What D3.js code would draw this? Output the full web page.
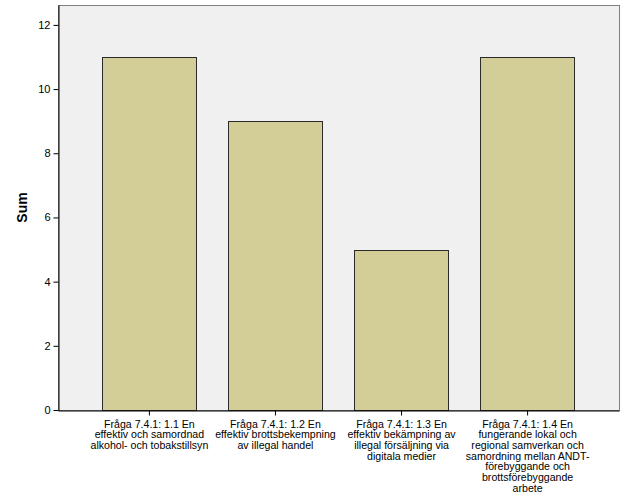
<!DOCTYPE html>
<html><head><meta charset="utf-8">
<script src="https://cdn.jsdelivr.net/npm/d3@7"></script>
<style>body{margin:0;background:#fff}svg{display:block}text{font-family:"Liberation Sans",Arial,sans-serif}</style>
</head><body>
<script>
const categories = [
  ["Fråga 7.4.1: 1.1 En","effektiv och samordnad","alkohol- och tobakstillsyn"],
  ["Fråga 7.4.1: 1.2 En","effektiv brottsbekempning","av illegal handel"],
  ["Fråga 7.4.1: 1.3 En","effektiv bekämpning av","illegal försäljning via","digitala medier"],
  ["Fråga 7.4.1: 1.4 En","fungerande lokal och","regional samverkan och","samordning mellan ANDT-","förebyggande och","brottsförebyggande","arbete"]
];
const values = [11, 9, 5, 11];
const yTicks = [0, 2, 4, 6, 8, 10, 12];
const yLabel = "Sum";

const W = 626, H = 501;
const m = {left: 58, right: 7, top: 5, bottom: 91};
const svg = d3.select("body").append("svg").attr("width", W).attr("height", H);
const x = d3.scaleBand().domain(d3.range(categories.length)).range([m.left, W - m.right]).paddingInner(0.25).paddingOuter(0.35);
const y = d3.scaleLinear().domain([0, 12.62]).range([H - m.bottom, m.top]);

svg.append("rect").attr("x", m.left + 0.5).attr("y", m.top + 0.5).attr("width", W - m.right - m.left).attr("height", H - m.bottom - m.top)
  .attr("fill", "#f0f0f0").attr("stroke", "#7f7f7f").attr("stroke-width", 1);

svg.selectAll("rect.bar").data(values).join("rect").attr("class", "bar")
  .attr("x", (d, i) => Math.round(x(i)) + 0.5).attr("y", d => Math.round(y(d)) + 0.5)
  .attr("width", Math.round(x.bandwidth()) - 1).attr("height", d => Math.round(y(0)) - Math.round(y(d)))
  .attr("fill", "#d3ce97").attr("stroke", "#2b2b2b").attr("stroke-width", 1);

// y axis
const ya = svg.append("g").attr("transform", `translate(${m.left + 0.5},0)`)
  .call(d3.axisLeft(y).tickValues(yTicks).tickSize(5).tickSizeOuter(0).tickPadding(3).tickFormat(d3.format("d")));
ya.select(".domain").attr("stroke", "#000");
ya.selectAll("text").attr("font-size", 11).attr("fill", "#000").attr("font-family", "Liberation Sans, Arial, sans-serif");
ya.selectAll("line").attr("stroke", "#000");

// x axis
const xa = svg.append("g").attr("transform", `translate(0,${H - m.bottom + 0.5})`)
  .call(d3.axisBottom(x).tickSize(5).tickSizeOuter(0).tickFormat(""));
xa.select(".domain").attr("stroke", "#000");
xa.selectAll("line").attr("stroke", "#000");
xa.selectAll(".tick").each(function(d) {
  const t = d3.select(this).append("text").attr("y", 17).attr("fill", "#000").attr("text-anchor", "middle")
    .attr("font-size", 10.6).attr("font-family", "Liberation Sans, Arial, sans-serif");
  categories[d].forEach((line, k) => t.append("tspan").attr("x", 0).attr("dy", k === 0 ? 0 : 10.7).text(line));
});

svg.append("text").attr("transform", `translate(27,${(m.top + H - m.bottom) / 2}) rotate(-90)`)
  .attr("text-anchor", "middle").attr("font-size", 14).attr("font-weight", "bold").attr("fill", "#000").text(yLabel);
</script>
</body></html>
